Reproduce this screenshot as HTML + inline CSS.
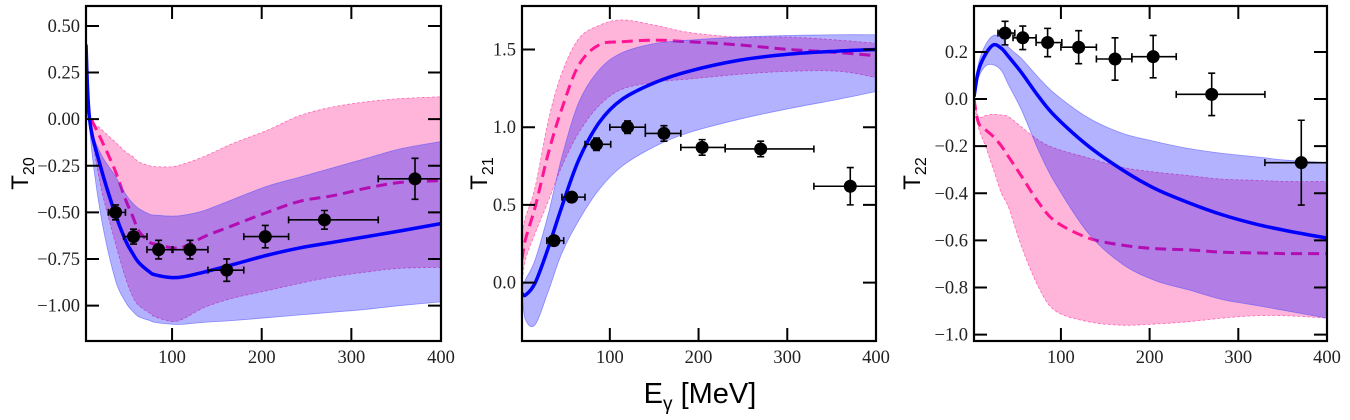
<!DOCTYPE html>
<html><head><meta charset="utf-8">
<style>
html,body{margin:0;padding:0;background:#fff;}
svg{display:block;}
text{font-family:"Liberation Serif",serif;}
.t{font-size:18.5px;fill:#222;}
.ax{font-family:"Liberation Sans",sans-serif;fill:#000;}
</style></head>
<body>
<svg id="fig" width="1350" height="420" viewBox="0 0 1350 420" xmlns="http://www.w3.org/2000/svg">
<text class="ax" x="700" y="403" text-anchor="middle" font-size="29">E<tspan font-size="19" dy="7">γ</tspan><tspan dy="-7"> [MeV]</tspan></text>
</svg>
<script>
// ---- data ----
const binLo = [29, 46, 72, 100, 140, 180, 230, 330];
const binHi = [48, 72, 101, 140, 180, 230, 330, 410];
const binX  = [37, 57, 85, 120, 161, 204, 270, 371];
const t20Y = [-0.50, -0.63, -0.70, -0.70, -0.81, -0.63, -0.54, -0.32];
const t20E = [0.04, 0.04, 0.05, 0.05, 0.06, 0.06, 0.05, 0.11];
const t21Y = [0.27, 0.55, 0.89, 1.00, 0.96, 0.87, 0.86, 0.62];
const t21E = [0.03, 0.03, 0.04, 0.04, 0.05, 0.05, 0.05, 0.12];
const t22Y = [0.28, 0.26, 0.24, 0.22, 0.17, 0.18, 0.02, -0.27];
const t22E = [0.05, 0.05, 0.06, 0.07, 0.09, 0.09, 0.09, 0.18];

const p1X  = [4,8,20,36,48,56,63,75,81,100,113,136,168,206,243,280,317,354,400];
const p1B  = [0.40,0.0,-0.25,-0.50,-0.65,-0.72,-0.77,-0.82,-0.835,-0.85,-0.845,-0.82,-0.78,-0.73,-0.69,-0.66,-0.63,-0.60,-0.56];
const p1BU = [0.40,0.0,-0.18,-0.30,-0.40,-0.45,-0.48,-0.51,-0.515,-0.52,-0.515,-0.49,-0.43,-0.36,-0.31,-0.26,-0.21,-0.16,-0.12];
const p1BL = [0.40,-0.05,-0.50,-0.85,-0.98,-1.03,-1.06,-1.08,-1.09,-1.10,-1.10,-1.09,-1.08,-1.065,-1.05,-1.035,-1.02,-1.0,-0.98];
const p1P  = [0.08,0.02,-0.10,-0.27,-0.43,-0.52,-0.60,-0.66,-0.67,-0.69,-0.685,-0.63,-0.57,-0.50,-0.44,-0.41,-0.37,-0.34,-0.33];
const p1PU = [0.10,0.0,-0.05,-0.12,-0.175,-0.20,-0.23,-0.25,-0.255,-0.255,-0.24,-0.20,-0.13,-0.06,0.02,0.066,0.093,0.11,0.12];
const p1PL = [0.05,-0.02,-0.35,-0.65,-0.85,-0.95,-1.0,-1.04,-1.06,-1.085,-1.07,-1.01,-0.96,-0.92,-0.88,-0.845,-0.82,-0.80,-0.795];

const p2X  = [1,5,16,31,46,65,88,114,152,189,245,302,358,400];
const p2B  = [-0.07,-0.08,0.0,0.23,0.49,0.79,1.03,1.18,1.29,1.36,1.43,1.47,1.49,1.50];
const p2BU = [-0.03,0.02,0.15,0.45,0.81,1.16,1.37,1.48,1.54,1.56,1.58,1.59,1.595,1.595];
const p2BL = [-0.07,-0.24,-0.27,-0.05,0.19,0.40,0.60,0.75,0.88,0.965,1.05,1.12,1.18,1.23];
const p2P  = [0.15,0.28,0.49,0.84,1.12,1.40,1.53,1.55,1.56,1.55,1.53,1.50,1.48,1.46];
const p2PU = [0.32,0.42,0.62,1.05,1.35,1.57,1.655,1.69,1.655,1.61,1.58,1.58,1.56,1.54];
const p2PL = [0.0,0.15,0.32,0.53,0.75,0.965,1.14,1.245,1.29,1.31,1.34,1.36,1.36,1.32];

const p3X  = [2,7,15,24,33,41,56,75,94,131,169,206,244,281,319,356,400];
const p3B  = [0.01,0.12,0.19,0.23,0.215,0.18,0.11,0.01,-0.075,-0.20,-0.30,-0.38,-0.44,-0.49,-0.53,-0.56,-0.59];
const p3BU = [0.01,0.15,0.23,0.27,0.26,0.22,0.17,0.09,0.02,-0.08,-0.145,-0.18,-0.21,-0.23,-0.245,-0.26,-0.27];
const p3BL = [0.01,0.09,0.14,0.145,0.12,0.06,-0.05,-0.22,-0.36,-0.57,-0.70,-0.77,-0.81,-0.85,-0.875,-0.90,-0.93];
const p3P  = [0.0,-0.10,-0.13,-0.16,-0.20,-0.245,-0.33,-0.44,-0.52,-0.59,-0.62,-0.635,-0.64,-0.65,-0.653,-0.656,-0.656];
const p3PU = [0.0,-0.075,-0.07,-0.065,-0.068,-0.075,-0.12,-0.175,-0.21,-0.25,-0.29,-0.31,-0.325,-0.34,-0.345,-0.35,-0.35];
const p3PL = [0.0,-0.12,-0.20,-0.30,-0.40,-0.46,-0.63,-0.80,-0.90,-0.945,-0.96,-0.955,-0.945,-0.93,-0.92,-0.92,-0.93];

const xTicks = [100, 200, 300, 400];
const y1Ticks = [0.5, 0.25, 0, -0.25, -0.5, -0.75, -1.0];
const y1Labels = ["0.50","0.25","0.00","\u22120.25","\u22120.50","\u22120.75","\u22121.00"];
const y2Ticks = [1.5, 1.0, 0.5, 0.0];
const y2Labels = ["1.5","1.0","0.5","0.0"];
const y3Ticks = [0.2, 0, -0.2, -0.4, -0.6, -0.8, -1.0];
const y3Labels = ["0.2","0.0","\u22120.2","\u22120.4","\u22120.6","\u22120.8","\u22121.0"];

const NS = "http://www.w3.org/2000/svg";
const fig = document.getElementById('fig');
function mk(tag, attrs, parent){
  const e = document.createElementNS(NS, tag);
  for (const k in attrs) e.setAttribute(k, attrs[k]);
  (parent||fig).appendChild(e);
  return e;
}
// Catmull-Rom smoothed path through pixel points (optionally continuing an existing path)
function smooth(pts, start){
  let d = start ? 'L' : 'M';
  d += pts[0][0].toFixed(2) + ',' + pts[0][1].toFixed(2);
  for (let i = 0; i < pts.length - 1; i++){
    const p0 = pts[Math.max(0, i-1)], p1 = pts[i], p2 = pts[i+1], p3 = pts[Math.min(pts.length-1, i+2)];
    const c1x = p1[0] + (p2[0]-p0[0])/6, c1y = p1[1] + (p2[1]-p0[1])/6;
    const c2x = p2[0] - (p3[0]-p1[0])/6, c2y = p2[1] - (p3[1]-p1[1])/6;
    d += ` C${c1x.toFixed(2)},${c1y.toFixed(2)} ${c2x.toFixed(2)},${c2y.toFixed(2)} ${p2[0].toFixed(2)},${p2[1].toFixed(2)}`;
  }
  return d;
}

function panel(cfg){
  const {id, L, R, T, B, x0, x1, y0, y1} = cfg;
  const sx = v => L + (v - x0) / (x1 - x0) * (R - L);
  const sy = v => B - (v - y0) / (y1 - y0) * (B - T);
  const g = mk('g', {});
  
  
  const cp = mk('clipPath', {id: id + '-clip'}, g);
  mk('rect', {x: L, y: T, width: R - L, height: B - T}, cp);
  const pg = mk('g', {'clip-path': 'url(#' + id + '-clip)'}, g);
  const pts = (xs, ys) => xs.map((x, i) => [sx(x), sy(ys[i])]);
  const line = (xs, ys) => smooth(pts(xs, ys), false);
  const band = (xs, up, lo) => smooth(pts(xs, up), false) + ' ' + smooth(pts(xs, lo).reverse(), true) + ' Z';
  const pb = mk('path', {d: band(cfg.xs, cfg.pU, cfg.pL), fill: '#ff69b4', 'fill-opacity': 0.5, stroke: '#ff69b4', 'stroke-width': 0.8, 'stroke-dasharray': '3,2'}, pg);
  
  
  const pl = mk('path', {d: line(cfg.xs, cfg.p), fill: 'none', stroke: '#ff1493', 'stroke-width': 3, 'stroke-dasharray': '11,6'}, pg);
  
  
  const bb = mk('path', {d: band(cfg.xs, cfg.bU, cfg.bL), fill: '#0000ff', 'fill-opacity': 0.3, stroke: '#5555ff', 'stroke-width': 0.8, 'stroke-opacity': 0.6}, pg);
  
  
  const bl = mk('path', {d: line(cfg.xs, cfg.b), fill: 'none', stroke: '#0000ff', 'stroke-width': 3.5}, pg);
  
  
  for (let i = 0; i < binX.length; i++){
    const dg = mk('g', {}, pg);
    
    
    const cx = sx(binX[i]), cy = sy(cfg.dy[i]);
    const ya = sy(cfg.dy[i] + cfg.de[i]), yb = sy(cfg.dy[i] - cfg.de[i]);
    const xa = sx(binLo[i]), xb = sx(binHi[i]);
    mk('path', {d: `M${xa},${cy} H${xb} M${cx},${ya} V${yb} M${xa},${cy-3.5} V${cy+3.5} M${xb},${cy-3.5} V${cy+3.5} M${cx-3.5},${ya} H${cx+3.5} M${cx-3.5},${yb} H${cx+3.5}`, stroke: '#000', 'stroke-width': 1.6, fill: 'none'}, dg);
    mk('circle', {cx: cx, cy: cy, r: 6.5, fill: '#000'}, dg);
  }
  const fr = mk('rect', {x: L, y: T, width: R - L, height: B - T, fill: 'none', stroke: '#000', 'stroke-width': 2.2}, g);
  
  
  xTicks.forEach(v => {
    const x = sx(v);
    mk('path', {d: `M${x},${B} V${B-13} M${x},${T} V${T+13}`, stroke: '#000', 'stroke-width': 2}, g);
    const t = mk('text', {x: x, y: B + 22, 'text-anchor': 'middle', class: 't'}, g);
    t.textContent = v;
    
    
  });
  cfg.yt.forEach((v, i) => {
    const y = sy(v);
    mk('path', {d: `M${L},${y} H${L+13} M${R},${y} H${R-13}`, stroke: '#000', 'stroke-width': 2}, g);
    const t = mk('text', {x: L - 6, y: y + 6, 'text-anchor': 'end', class: 't'}, g);
    t.textContent = cfg.yl[i];
    
    
  });
  const yt = mk('text', {transform: `translate(${cfg.titleX},${(T+B)/2}) rotate(-90)`, 'text-anchor': 'middle', class: 'ax', 'font-size': 24}, g);
  
  
  yt.innerHTML = 'T<tspan font-size="16" dy="6">' + cfg.sub + '</tspan>';
}

panel({id:'t20', L:86, R:441, T:6, B:341, x0:4, x1:400, y0:-1.19, y1:0.607,
  xs:p1X, b:p1B, bU:p1BU, bL:p1BL, p:p1P, pU:p1PU, pL:p1PL, dy:t20Y, de:t20E,
  yt:y1Ticks, yl:y1Labels, sub:'20', titleX:28});
panel({id:'t21', L:522, R:876, T:6, B:341, x0:1, x1:400, y0:-0.376, y1:1.78,
  xs:p2X, b:p2B, bU:p2BU, bL:p2BL, p:p2P, pU:p2PU, pL:p2PL, dy:t21Y, de:t21E,
  yt:y2Ticks, yl:y2Labels, sub:'21', titleX:487});
panel({id:'t22', L:974, R:1327, T:6, B:341, x0:2, x1:400, y0:-1.027, y1:0.395,
  xs:p3X, b:p3B, bU:p3BU, bL:p3BL, p:p3P, pU:p3PU, pL:p3PL, dy:t22Y, de:t22E,
  yt:y3Ticks, yl:y3Labels, sub:'22', titleX:920});
</script>
</body></html>
